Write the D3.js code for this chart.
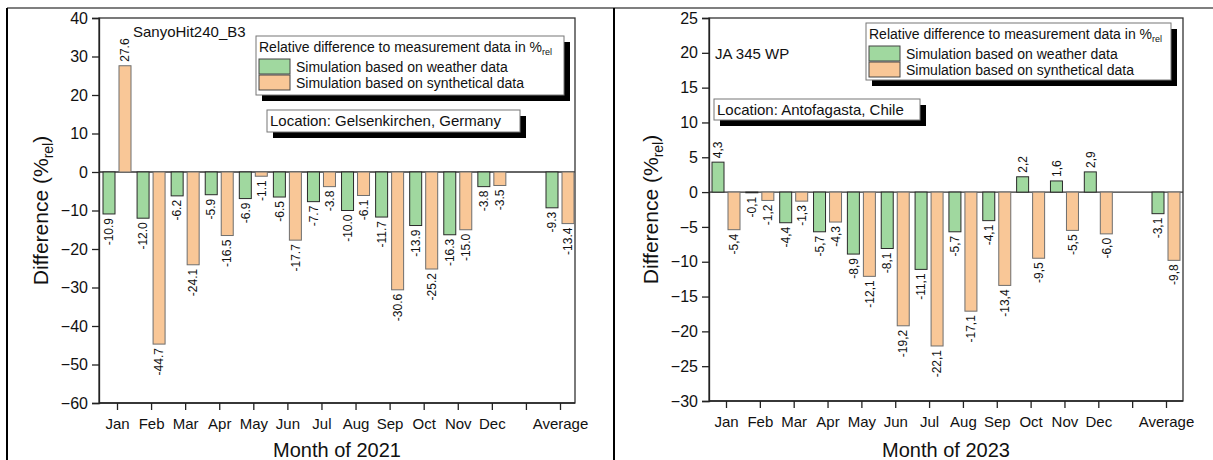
<!DOCTYPE html>
<html>
<head>
<meta charset="utf-8">
<script src="https://cdn.jsdelivr.net/npm/d3@7"></script>
<style>
  body { margin: 0; background: #fff; }
  svg { display: block; font-family: "Liberation Sans", Arial, sans-serif; }
</style>
</head>
<body>
<svg id="chart" width="1213" height="460"></svg>
<script>
// categories (blank slot before the average)
const categories = ["Jan", "Feb", "Mar", "Apr", "May", "Jun", "Jul", "Aug", "Sep", "Oct", "Nov", "Dec", "", "Average"];
const seriesNames = ["Simulation based on weather data", "Simulation based on synthetical data"];

// 2021, Gelsenkirchen
const weather2021 = [-10.9, -12.0, -6.2, -5.9, -6.9, -6.5, -7.7, -10.0, -11.7, -13.9, -16.3, -3.8, null, -9.3];
const synthetic2021 = [27.6, -44.7, -24.1, -16.5, -1.1, -17.7, -3.8, -6.1, -30.6, -25.2, -15.0, -3.5, null, -13.4];
const yTicks2021 = [-60, -50, -40, -30, -20, -10, 0, 10, 20, 30, 40];

// 2023, Antofagasta
const weather2023 = [4.3, -0.1, -4.4, -5.7, -8.9, -8.1, -11.1, -5.7, -4.1, 2.2, 1.6, 2.9, null, -3.1];
const synthetic2023 = [-5.4, -1.2, -1.3, -4.3, -12.1, -19.2, -22.1, -17.1, -13.4, -9.5, -5.5, -6.0, null, -9.8];
const yTicks2023 = [-30, -25, -20, -15, -10, -5, 0, 5, 10, 15, 20, 25];

const colors = ["#a0d89f", "#f9c797"];
const strokes = ["#2a2a2a", "#6e6e6e"];

const svg = d3.select("#chart");

// page frame lines
svg.append("line").attr("x1", 7).attr("x2", 1213).attr("y1", 8).attr("y2", 8)
    .attr("stroke", "#000").attr("stroke-width", 1.2);
svg.append("line").attr("x1", 7).attr("x2", 7).attr("y1", 8).attr("y2", 460)
    .attr("stroke", "#000").attr("stroke-width", 2);
svg.append("line").attr("x1", 614).attr("x2", 614).attr("y1", 8).attr("y2", 460)
    .attr("stroke", "#000").attr("stroke-width", 2);

function drawPanel(p) {
    const g = svg.append("g");

    const x = d3.scalePoint().domain(categories).range([p.firstTick, p.lastTick]);
    const sub = d3.scaleBand().domain([0, 1]).range([-14, 14]).paddingInner(0.25);
    const y = d3.scaleLinear().domain(p.yDomain).range([p.bottom, p.top]);

    // frame
    g.append("rect")
        .attr("x", p.left).attr("y", p.top)
        .attr("width", p.right - p.left).attr("height", p.bottom - p.top)
        .attr("fill", "none").attr("stroke", "#333").attr("stroke-width", 1.3);

    // zero line
    g.append("line")
        .attr("x1", p.left).attr("x2", p.right)
        .attr("y1", y(0)).attr("y2", y(0))
        .attr("stroke", "#333").attr("stroke-width", 1.3);

    // bars
    const rows = [];
    p.series.forEach((vals, s) => {
        vals.forEach((v, i) => {
            if (v !== null) rows.push({cat: categories[i], s: s, v: v});
        });
    });

    g.selectAll(".bar")
        .data(rows)
        .enter()
        .append("rect")
        .attr("class", "bar")
        .attr("x", d => x(d.cat) + sub(d.s))
        .attr("y", d => Math.min(y(d.v), y(0)))
        .attr("width", sub.bandwidth())
        .attr("height", d => Math.abs(y(d.v) - y(0)))
        .attr("fill", d => colors[d.s])
        .attr("stroke", d => strokes[d.s])
        .attr("stroke-width", 1);

    // value labels, rotated
    const fmt = d3.format(".1f");
    g.selectAll(".val")
        .data(rows)
        .enter()
        .append("text")
        .attr("class", "val")
        .attr("transform", d => {
            const cx = x(d.cat) + sub(d.s) + sub.bandwidth() / 2;
            const cy = d.v >= 0 ? y(d.v) - 4 : y(d.v) + 4;
            return `translate(${cx},${cy}) rotate(-90)`;
        })
        .attr("dy", "0.35em")
        .attr("text-anchor", d => d.v >= 0 ? "start" : "end")
        .attr("font-size", 12)
        .attr("fill", "#111")
        .text(d => {
            const t = fmt(d.v).replace("−", "-");
            return p.comma ? t.replace(".", ",") : t;
        });

    // axes
    const yAxis = g.append("g")
        .attr("transform", `translate(${p.left},0)`)
        .call(d3.axisLeft(y).tickValues(p.yTicks).tickSize(7).tickPadding(4));
    yAxis.select(".domain").attr("stroke", "#222").attr("stroke-width", 1.3);
    yAxis.selectAll(".tick line").attr("stroke", "#222").attr("stroke-width", 1.3);
    yAxis.selectAll(".tick text").attr("font-size", 16).attr("fill", "#111")
        .attr("font-family", "Liberation Sans, Arial, sans-serif");

    const xAxis = g.append("g")
        .attr("transform", `translate(0,${p.bottom})`)
        .call(d3.axisBottom(x).tickSize(7).tickPadding(8).tickSizeOuter(0));
    xAxis.select(".domain").attr("d", `M${p.left},0H${p.right}`).attr("stroke", "#222").attr("stroke-width", 1.3);
    xAxis.selectAll(".tick line").attr("stroke", "#222").attr("stroke-width", 1.3);
    xAxis.selectAll(".tick text").attr("font-size", 15).attr("fill", "#111")
        .attr("font-family", "Liberation Sans, Arial, sans-serif");

    // axis titles
    const yt = g.append("text")
        .attr("transform", `translate(${p.yTitleX},${(p.top + p.bottom) / 2}) rotate(-90)`)
        .attr("text-anchor", "middle")
        .attr("dy", "0.35em")
        .attr("font-size", 21)
        .attr("fill", "#111");
    yt.append("tspan").text("Difference (%");
    yt.append("tspan").attr("font-size", 14).attr("dy", 5).text("rel");
    yt.append("tspan").attr("dy", -5).text(")");

    g.append("text")
        .attr("x", (p.left + p.right) / 2)
        .attr("y", 457)
        .attr("text-anchor", "middle")
        .attr("font-size", 20)
        .attr("fill", "#111")
        .text(p.xTitle);

    // panel name
    g.append("text")
        .attr("x", p.nameX).attr("y", p.nameY)
        .attr("font-size", 15).attr("fill", "#111")
        .text(p.name);

    // legend with drop shadow
    const L = p.legend;
    g.append("rect").attr("x", L.x + 6).attr("y", L.y + 6).attr("width", L.w).attr("height", L.h).attr("fill", "#000");
    g.append("rect").attr("x", L.x).attr("y", L.y).attr("width", L.w).attr("height", L.h)
        .attr("fill", "#fff").attr("stroke", "#777").attr("stroke-width", 1);
    const lt = g.append("text").attr("x", L.x + 3).attr("y", L.y + 16)
        .attr("font-size", 14).attr("fill", "#111");
    lt.append("tspan").text("Relative difference to measurement data in %");
    lt.append("tspan").attr("font-size", 9).attr("dy", 3).text("rel");
    seriesNames.forEach((name, s) => {
        const ry = L.y + 23 + s * 16;
        g.append("rect").attr("x", L.x + 3).attr("y", ry).attr("width", 31).attr("height", 15)
            .attr("fill", colors[s]).attr("stroke", "#444").attr("stroke-width", 1);
        g.append("text").attr("x", L.x + 40).attr("y", ry + 12.5)
            .attr("font-size", 14).attr("fill", "#111").text(name);
    });

    // location box with drop shadow
    const B = p.loc;
    g.append("rect").attr("x", B.x + 6).attr("y", B.y + 6).attr("width", B.w).attr("height", B.h).attr("fill", "#000");
    g.append("rect").attr("x", B.x).attr("y", B.y).attr("width", B.w).attr("height", B.h)
        .attr("fill", "#fff").attr("stroke", "#777").attr("stroke-width", 1);
    g.append("text").attr("x", B.x + 3).attr("y", B.y + B.h / 2).attr("dy", "0.35em")
        .attr("font-size", 15).attr("fill", "#111").text(B.text);
}

drawPanel({
    series: [weather2021, synthetic2021],
    yDomain: [-60, 40], yTicks: yTicks2021,
    left: 99, right: 575, top: 18, bottom: 403,
    firstTick: 117, lastTick: 560,
    yTitleX: 41, xTitle: "Month of 2021",
    name: "SanyoHit240_B3", nameX: 133, nameY: 37,
    legend: {x: 256, y: 36, w: 308, h: 59},
    loc: {x: 267, y: 110, w: 253, h: 22, text: "Location: Gelsenkirchen, Germany"},
    comma: false
});

drawPanel({
    series: [weather2023, synthetic2023],
    yDomain: [-30, 25], yTicks: yTicks2023,
    left: 709, right: 1183, top: 18, bottom: 401,
    firstTick: 726, lastTick: 1166,
    yTitleX: 651, xTitle: "Month of 2023",
    name: "JA 345 WP", nameX: 715, nameY: 59,
    legend: {x: 866, y: 23, w: 305, h: 57},
    loc: {x: 714, y: 99, w: 206, h: 21, text: "Location: Antofagasta, Chile"},
    comma: true
});
</script>
</body>
</html>
